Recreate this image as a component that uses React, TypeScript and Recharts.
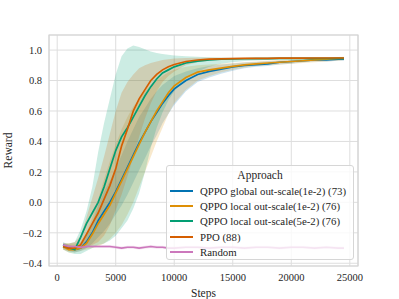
import { ComposedChart, Area, Line, XAxis, YAxis, CartesianGrid, ReferenceArea, Label } from 'recharts'

const steps = [500, 1000, 1500, 2000, 2500, 3000, 3500, 4000, 4500, 5000, 5500, 6000, 6500, 7000, 7500, 8000, 8500, 9000, 9500, 10000, 11000, 12000, 13000, 14000, 15000, 16000, 17000, 18000, 19000, 20000, 21000, 22000, 23000, 24000, 24500]

const globalMean = [-0.28, -0.3, -0.31, -0.3, -0.26, -0.2, -0.12, -0.06, 0.0, 0.07, 0.15, 0.23, 0.31, 0.39, 0.46, 0.53, 0.59, 0.65, 0.7, 0.745, 0.8, 0.84, 0.86, 0.875, 0.89, 0.9, 0.905, 0.91, 0.92, 0.925, 0.93, 0.935, 0.935, 0.94, 0.94]
const globalLo = [-0.3, -0.32, -0.33, -0.32, -0.3, -0.27, -0.23, -0.19, -0.14, -0.08, -0.02, 0.05, 0.13, 0.21, 0.29, 0.37, 0.44, 0.52, 0.58, 0.64, 0.73, 0.79, 0.82, 0.845, 0.865, 0.88, 0.89, 0.895, 0.905, 0.91, 0.92, 0.925, 0.925, 0.93, 0.93]
const globalHi = [-0.26, -0.28, -0.29, -0.27, -0.21, -0.13, -0.02, 0.07, 0.14, 0.22, 0.31, 0.4, 0.48, 0.56, 0.62, 0.68, 0.73, 0.77, 0.8, 0.83, 0.86, 0.88, 0.895, 0.905, 0.912, 0.918, 0.922, 0.926, 0.93, 0.934, 0.938, 0.942, 0.945, 0.948, 0.948]

const local1Mean = [-0.29, -0.31, -0.31, -0.3, -0.27, -0.21, -0.14, -0.08, -0.02, 0.06, 0.14, 0.22, 0.3, 0.38, 0.46, 0.53, 0.6, 0.66, 0.72, 0.765, 0.82, 0.855, 0.87, 0.882, 0.893, 0.903, 0.91, 0.915, 0.92, 0.925, 0.93, 0.935, 0.94, 0.945, 0.946]
const local1Lo = [-0.31, -0.33, -0.33, -0.32, -0.31, -0.3, -0.29, -0.27, -0.24, -0.2, -0.15, -0.08, 0.0, 0.1, 0.2, 0.3, 0.4, 0.49, 0.58, 0.65, 0.74, 0.8, 0.83, 0.855, 0.87, 0.885, 0.895, 0.9, 0.905, 0.91, 0.915, 0.92, 0.925, 0.93, 0.935]
const local1Hi = [-0.27, -0.27, -0.27, -0.26, -0.2, -0.1, 0.02, 0.15, 0.27, 0.38, 0.48, 0.56, 0.63, 0.68, 0.73, 0.77, 0.8, 0.83, 0.855, 0.87, 0.89, 0.9, 0.905, 0.91, 0.915, 0.92, 0.925, 0.93, 0.935, 0.94, 0.943, 0.946, 0.95, 0.955, 0.956]

const local5Mean = [-0.29, -0.3, -0.31, -0.23, -0.14, -0.07, 0.0, 0.1, 0.22, 0.34, 0.43, 0.49, 0.56, 0.63, 0.7, 0.76, 0.81, 0.85, 0.87, 0.89, 0.915, 0.928, 0.935, 0.94, 0.942, 0.943, 0.944, 0.944, 0.945, 0.945, 0.945, 0.946, 0.946, 0.946, 0.946]
const local5Lo = [-0.31, -0.33, -0.34, -0.34, -0.32, -0.3, -0.28, -0.27, -0.25, -0.22, -0.17, -0.12, -0.04, 0.06, 0.2, 0.36, 0.49, 0.59, 0.67, 0.73, 0.81, 0.86, 0.89, 0.91, 0.92, 0.928, 0.932, 0.935, 0.937, 0.938, 0.94, 0.94, 0.94, 0.94, 0.94]
const local5Hi = [-0.27, -0.27, -0.26, -0.18, -0.06, 0.1, 0.33, 0.52, 0.68, 0.84, 0.96, 1.01, 1.03, 1.02, 1.005, 0.99, 0.98, 0.975, 0.97, 0.965, 0.96, 0.956, 0.953, 0.951, 0.95, 0.95, 0.95, 0.95, 0.95, 0.95, 0.95, 0.95, 0.95, 0.95, 0.95]

const ppoMean = [-0.29, -0.3, -0.3, -0.28, -0.21, -0.14, -0.07, 0.02, 0.11, 0.22, 0.37, 0.48, 0.6, 0.68, 0.74, 0.8, 0.84, 0.87, 0.89, 0.905, 0.925, 0.935, 0.94, 0.942, 0.944, 0.945, 0.946, 0.946, 0.947, 0.947, 0.947, 0.948, 0.948, 0.948, 0.948]
const ppoLo = [-0.31, -0.32, -0.32, -0.31, -0.3, -0.28, -0.26, -0.22, -0.15, -0.05, 0.05, 0.17, 0.3, 0.43, 0.55, 0.65, 0.73, 0.79, 0.83, 0.86, 0.9, 0.92, 0.93, 0.935, 0.94, 0.94, 0.941, 0.942, 0.943, 0.943, 0.944, 0.944, 0.944, 0.944, 0.944]
const ppoHi = [-0.27, -0.27, -0.26, -0.22, -0.1, 0.03, 0.16, 0.3, 0.45, 0.6, 0.72, 0.79, 0.84, 0.88, 0.9, 0.915, 0.925, 0.935, 0.94, 0.945, 0.948, 0.949, 0.95, 0.95, 0.95, 0.95, 0.951, 0.951, 0.951, 0.951, 0.951, 0.952, 0.952, 0.952, 0.952]

const randomMean = [-0.28, -0.29, -0.29, -0.295, -0.29, -0.29, -0.29, -0.29, -0.29, -0.295, -0.3, -0.295, -0.295, -0.3, -0.295, -0.29, -0.295, -0.295, -0.3, -0.3, -0.295, -0.295, -0.3, -0.295, -0.295, -0.3, -0.295, -0.295, -0.3, -0.295, -0.295, -0.3, -0.295, -0.3, -0.3]
const randomLo = [-0.29, -0.3, -0.3, -0.305, -0.3, -0.3, -0.3, -0.3, -0.3, -0.305, -0.31, -0.305, -0.305, -0.31, -0.305, -0.3, -0.305, -0.305, -0.31, -0.31, -0.305, -0.305, -0.31, -0.305, -0.305, -0.31, -0.305, -0.305, -0.31, -0.305, -0.305, -0.31, -0.305, -0.31, -0.31]
const randomHi = [-0.27, -0.28, -0.28, -0.285, -0.28, -0.28, -0.28, -0.28, -0.28, -0.285, -0.29, -0.285, -0.285, -0.29, -0.285, -0.28, -0.285, -0.285, -0.29, -0.29, -0.285, -0.285, -0.29, -0.285, -0.285, -0.29, -0.285, -0.285, -0.29, -0.285, -0.285, -0.29, -0.285, -0.29, -0.29]

const xTicks = [0, 5000, 10000, 15000, 20000, 25000]
const yTicks = [-0.4, -0.2, 0.0, 0.2, 0.4, 0.6, 0.8, 1.0]

const series = [
  { key: 'global', name: 'QPPO global out-scale(1e-2) (73)', color: '#0173b2', mean: globalMean, lo: globalLo, hi: globalHi },
  { key: 'local1', name: 'QPPO local out-scale(1e-2) (76)', color: '#de8f05', mean: local1Mean, lo: local1Lo, hi: local1Hi },
  { key: 'local5', name: 'QPPO local out-scale(5e-2) (76)', color: '#029e73', mean: local5Mean, lo: local5Lo, hi: local5Hi },
  { key: 'ppo', name: 'PPO (88)', color: '#d55e00', mean: ppoMean, lo: ppoLo, hi: ppoHi },
  { key: 'random', name: 'Random', color: '#cc78bc', mean: randomMean, lo: randomLo, hi: randomHi },
]

const data = steps.map((s, i) => {
  const row: Record<string, number | number[]> = { step: s }
  series.forEach((se) => {
    row[se.key] = se.mean[i]
    row[se.key + 'Band'] = [se.lo[i], se.hi[i]]
  })
  return row
})

const FONT = "'Liberation Serif', 'DejaVu Serif', serif"
const fmtY = (v: number) => (v < 0 ? '\u2212' + Math.abs(v).toFixed(1) : v.toFixed(1))
const tickStyle = { fontSize: 10.5, fill: '#262626', fontFamily: FONT }
const labelStyle = { fontSize: 11.5, fill: '#262626', fontFamily: FONT }

function LegendBox() {
  return (
    <div style={{ position: 'absolute', left: 166, top: 165, width: 188, height: 95, background: 'rgba(255,255,255,0.8)', border: '1px solid #d6d6d6', borderRadius: 3, boxSizing: 'border-box', color: '#262626' }}>
      <div style={{ textAlign: 'center', fontSize: 11.5, lineHeight: '14px', marginTop: 2, marginBottom: 1 }}>Approach</div>
      {series.map((s) => (
        <div key={s.key} style={{ display: 'flex', alignItems: 'center', height: 15.4, fontSize: 10.8, whiteSpace: 'nowrap' }}>
          <div style={{ width: 23, height: 2, background: s.color, marginLeft: 3, marginRight: 7, flexShrink: 0 }} />
          <span>{s.name}</span>
        </div>
      ))}
    </div>
  )
}

export default function App() {
  return (
    <div style={{ position: 'absolute', left: 0, top: 0, width: 399, height: 299, background: '#fff', fontFamily: FONT }}>
      <ComposedChart width={399} height={299} data={data} margin={{ top: 35, right: 41, left: 0, bottom: 0 }} style={{ fontFamily: FONT }}>
        <CartesianGrid stroke="#dedede" strokeWidth={1} />
        <ReferenceArea x1={-700} x2={25700} y1={-0.418} y2={1.099} fill="none" stroke="#d4d4d4" strokeWidth={1.2} />
        <XAxis dataKey="step" type="number" domain={[-700, 25700]} ticks={xTicks} allowDataOverflow axisLine={false} tickLine={false} tickSize={0} tickMargin={8} height={33} tick={tickStyle}>
          <Label value="Steps" position="insideBottom" offset={2} style={labelStyle} />
        </XAxis>
        <YAxis type="number" domain={[-0.418, 1.099]} ticks={yTicks} allowDataOverflow axisLine={false} tickLine={false} tickSize={0} tickMargin={7} width={49} tickFormatter={fmtY} tick={tickStyle}>
          <Label value="Reward" angle={-90} position="insideLeft" offset={8} style={{ ...labelStyle, textAnchor: 'middle' }} />
        </YAxis>
        {series.flatMap((s) => [
          <Area key={s.key + 'Band'} dataKey={s.key + 'Band'} stroke="none" fill={s.color} fillOpacity={0.2} isAnimationActive={false} activeDot={false} dot={false} legendType="none" />,
          <Line key={s.key} dataKey={s.key} stroke={s.color} strokeWidth={1.7} dot={false} activeDot={false} isAnimationActive={false} name={s.name} />,
        ])}
      </ComposedChart>
      <LegendBox />
    </div>
  )
}
